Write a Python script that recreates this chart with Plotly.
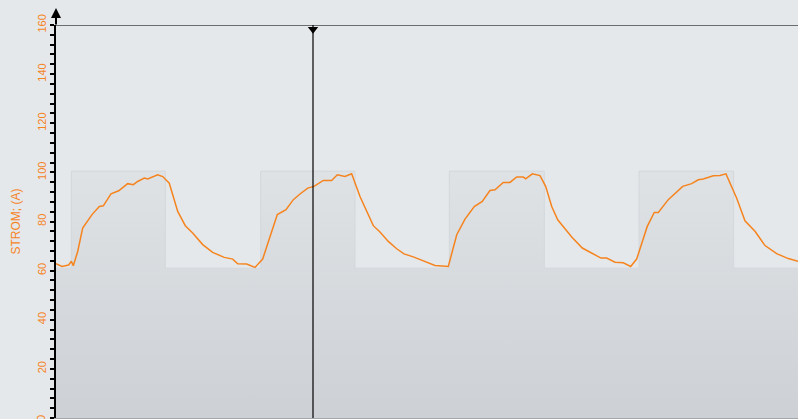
import plotly.graph_objects as go

# Step (set-point) profile
step_t = [0, 2.43, 17.33, 32.46, 47.41, 62.36, 77.42, 92.44, 107.45, 117.65]
step_v = [61, 100.5, 61, 100.5, 61, 100.5, 61, 100.5, 61, 61]

# Measured current (orange line)
cur_t = [0, 0.95, 2.01, 2.43, 2.74, 3.44, 4.23, 5.03, 5.71, 6.87, 7.50, 8.72, 9.94,
         11.37, 12.26, 12.95, 14.0, 14.54, 15.33, 16.12, 16.92, 17.96, 19.30, 20.50,
         21.67, 23.26, 24.84, 26.68, 28.02, 28.81, 30.24, 31.55, 32.77, 33.82, 35.09,
         36.47, 37.63, 38.69, 39.91, 40.91, 42.38, 43.71, 44.60, 45.82, 46.88, 48.20,
         50.31, 51.37, 52.69, 54.02, 55.18, 56.65, 58.51, 60.09, 62.20, 63.54, 64.85,
         66.32, 67.59, 68.81, 69.61, 70.92, 71.98, 73.05, 74.09, 74.47, 75.52, 76.74,
         77.64, 78.60, 79.55, 81.77, 83.45, 84.94, 86.41, 87.32, 88.63, 89.95, 91.12,
         92.07, 93.75, 94.86, 95.50, 97.08, 99.37, 100.79, 101.84, 102.63, 104.22,
         105.28, 106.23, 107.93, 109.24, 110.83, 112.42, 114.27, 116.11, 117.65]
cur_v = [62.8, 61.7, 62.3, 63.8, 62.0, 67.8, 77.3, 80.0, 82.8, 86.1, 86.4, 91.3, 92.5,
         95.4, 95.0, 96.3, 97.7, 97.3, 98.3, 99.0, 98.3, 95.6, 84.1, 78.3,
         75.3, 70.6, 67.4, 65.4, 64.7, 62.8, 62.7, 61.3, 64.7, 73.3, 82.8,
         84.8, 88.9, 91.2, 93.6, 94.3, 96.7, 96.7, 99.0, 98.3, 99.4, 90.2,
         78.3, 75.7, 71.9, 68.9, 66.8, 65.6, 63.8, 62.1, 61.7, 74.6, 81.0,
         86.1, 88.2, 92.6, 92.9, 95.9, 95.9, 98.1, 98.1, 97.4, 99.4, 98.7,
         94.3, 86.1, 80.7, 73.7, 69.2, 67.2, 65.1, 65.1, 63.4, 63.2, 61.7,
         64.7, 78.0, 83.7, 83.7, 88.9, 94.3, 95.4, 97.0, 97.3, 98.6,
         98.7, 99.4, 89.5, 80.3, 76.0, 70.2, 66.9, 64.9, 63.8]

cursor_t = 40.75
y_max = 160
x_max = 117.65
orange = "#f5841f"
bg = "#e5e8eb"

fig = go.Figure()
fig.add_trace(go.Scatter(
    x=step_t, y=step_v, mode="lines", line_shape="hv",
    line=dict(color="#d3d7db", width=1),
    fill="tozeroy",
    fillgradient=dict(type="vertical", start=0, stop=100.5,
                      colorscale=[[0, "#cdd1d5"], [1, "#dfe2e5"]]),
    hoverinfo="skip", showlegend=False))
fig.add_trace(go.Scatter(
    x=cur_t, y=cur_v, mode="lines",
    line=dict(color=orange, width=1.5), showlegend=False))
# cursor marker
fig.add_trace(go.Scatter(
    x=[cursor_t], y=[158.3], mode="markers",
    marker=dict(symbol="triangle-down", size=9, color="black"),
    cliponaxis=False, showlegend=False, hoverinfo="skip"))

fig.add_shape(type="line", xref="paper", yref="y", x0=0, x1=1, y0=y_max, y1=y_max,
              line=dict(color="#6a6d70", width=2))
fig.add_shape(type="line", xref="x", yref="paper", x0=cursor_t, x1=cursor_t, y0=0, y1=1,
              line=dict(color="black", width=1.2))

# y-axis arrow head above the top of the axis
fig.add_annotation(xref="paper", yref="paper", x=0, y=1.043, ax=0, ay=18,
                   text="", showarrow=True, arrowhead=2, arrowsize=1,
                   arrowwidth=2, arrowcolor="black", standoff=0)
# partially visible zero label at the bottom edge
fig.add_annotation(xref="paper", yref="y", x=0, y=0, xshift=-15, text="0",
                   showarrow=False, textangle=-90, xanchor="center", yanchor="middle",
                   font=dict(color=orange, size=11))

fig.update_layout(
    width=798, height=419,
    margin=dict(l=56, r=0, t=25, b=1),
    paper_bgcolor=bg, plot_bgcolor=bg,
    font=dict(family="Liberation Sans, Arial, sans-serif"),
    xaxis=dict(range=[0, x_max], showgrid=False, zeroline=False, showticklabels=False,
               ticks="", showline=True, linecolor="#a4a8ac", linewidth=1),
    yaxis=dict(range=[0, y_max], dtick=20, showgrid=False, zeroline=False,
               showline=True, linecolor="black", linewidth=2,
               ticks="outside", ticklen=4, tickcolor="black", tickwidth=1.5,
               minor=dict(dtick=4, ticks="outside", ticklen=4, tickcolor="black", tickwidth=1.5),
               tickangle=-90, tickfont=dict(color=orange, size=11),
               title=dict(text="STROM; (A)", font=dict(color=orange, size=12), standoff=12)),
)

fig.write_html("out.html")
